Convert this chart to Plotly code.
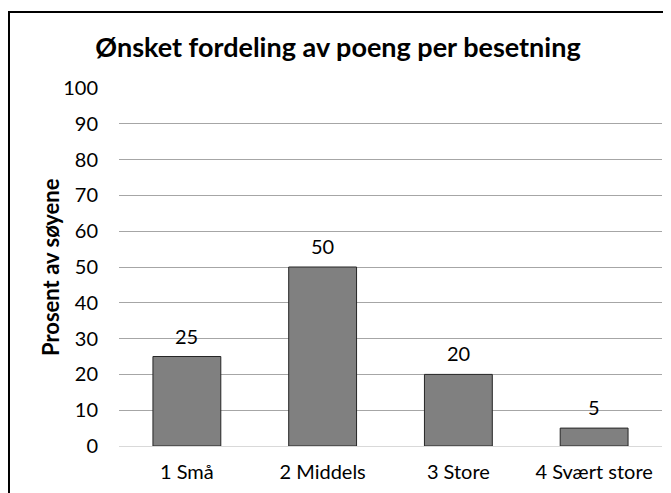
import plotly.graph_objects as go

categories = ["1 Små", "2 Middels", "3 Store", "4 Svært store"]
values = [25, 50, 20, 5]
y_ticks = [0, 10, 20, 30, 40, 50, 60, 70, 80, 90, 100]

FONT = "Lato"

fig = go.Figure()
fig.add_trace(go.Bar(
    x=categories, y=values,
    marker=dict(color="#808080", line=dict(color="#262626", width=1)),
    width=0.5,
    hoverinfo="x+y",
))

for c, v in zip(categories, values):
    fig.add_annotation(x=c, y=v, text=str(v), showarrow=False,
                       yanchor="bottom", yshift=7,
                       font=dict(family=FONT, size=20, color="#000000"))

fig.add_annotation(text="<b>Prosent av søyene</b>", xref="paper", yref="paper",
                   x=-0.127, y=0.5, showarrow=False, textangle=-90,
                   xanchor="center", yanchor="middle",
                   font=dict(family=FONT, size=22, color="#000000"))

# chart frame
fig.add_shape(type="rect", xref="paper", yref="paper",
              x0=-0.2026, x1=1.0147, y0=-0.3, y1=1.2123,
              line=dict(color="#000000", width=2), fillcolor="rgba(0,0,0,0)",
              layer="below")

fig.update_layout(
    width=671, height=493,
    margin=dict(l=111, r=17, t=80, b=55),
    paper_bgcolor="white", plot_bgcolor="white",
    showlegend=False,
    title=dict(text="<b>Ønsket fordeling av poeng per besetning</b>",
               x=330 / 671, xanchor="center", xref="container",
               y=1 - 40 / 493, yanchor="middle", yref="container",
               font=dict(family=FONT, size=27, color="#000000")),
    font=dict(family=FONT, size=20, color="#000000"),
    xaxis=dict(showgrid=False, showline=True, linecolor="#d9d9d9", linewidth=1,
               ticks="", ticklabelstandoff=8,
               tickfont=dict(family=FONT, size=20, color="#000000"),
               zeroline=False),
    yaxis=dict(range=[0, 100], tickvals=y_ticks, showgrid=True,
               gridcolor="#a6a6a6", gridwidth=1, zeroline=False,
               showline=False, ticks="", ticklabelstandoff=20,
               tickfont=dict(family=FONT, size=20, color="#000000")),
)

fig.write_html("out.html")
